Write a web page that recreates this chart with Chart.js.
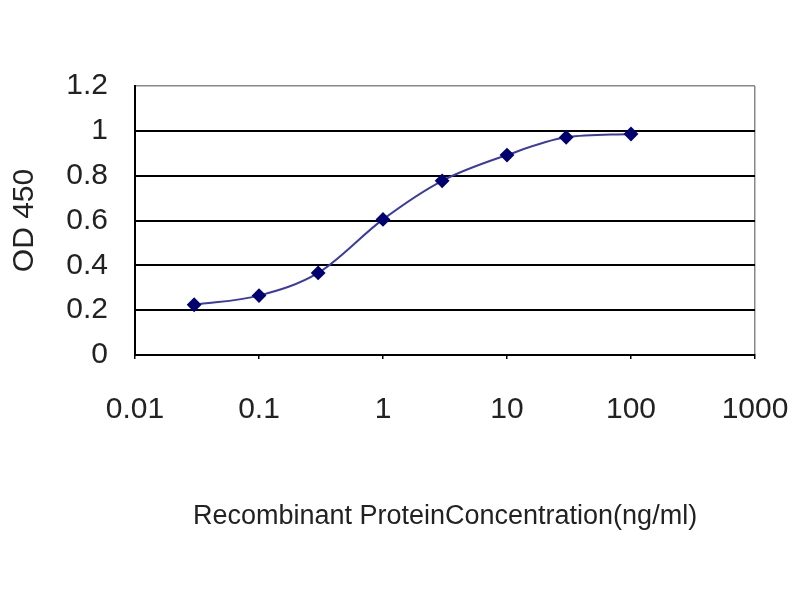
<!DOCTYPE html>
<html>
<head>
<meta charset="utf-8">
<script src="https://cdn.jsdelivr.net/npm/chart.js@4"></script>
<style>
  html, body { margin: 0; padding: 0; background: #fff; }
  #wrap { width: 800px; height: 600px; }
</style>
</head>
<body>
<div id="wrap"><canvas id="odChart"></canvas></div>
<script>
  // data
  const concentrations = [0.03, 0.1, 0.3, 1, 3, 10, 30, 100];
  const od450 = [0.224, 0.265, 0.366, 0.605, 0.777, 0.892, 0.971, 0.986];
  const xTicks = [0.01, 0.1, 1, 10, 100, 1000];
  const yTicks = [0, 0.2, 0.4, 0.6, 0.8, 1, 1.2];

  const points = concentrations.map((c, i) => ({ x: c, y: od450[i] }));

  const ctx = document.getElementById('odChart').getContext('2d');
  new Chart(ctx, {
    type: 'line',
    data: {
      datasets: [{
        label: 'OD 450',
        data: points,
        borderColor: '#3b3ba6',
        borderWidth: 2,
        pointStyle: 'rectRot',
        pointRadius: 6,
        pointBackgroundColor: '#000070',
        pointBorderColor: '#000070',
        cubicInterpolationMode: 'monotone'
      }]
    },
    options: {
      responsive: true,
      maintainAspectRatio: false,
      animation: false,
      layout: {
        padding: { top: 86, right: 45, left: 3, bottom: 63 }
      },
      plugins: {
        legend: { display: false },
        tooltip: { enabled: false }
      },
      scales: {
        x: {
          type: 'logarithmic',
          min: 0.01,
          max: 1000,
          afterBuildTicks: s => { s.ticks = xTicks.map(v => ({ value: v })); },
          afterFit: s => {
            s.height = 600 - 355 - 63;
            s.paddingLeft = 0;
            s.paddingRight = 0;
          },
          border: { color: '#000', width: 2 },
          grid: {
            color: c => (c.tick && c.tick.value === 1000) ? '#888' : 'rgba(0,0,0,0)',
            tickColor: '#000',
            tickLength: 4,
            lineWidth: 1.5
          },
          ticks: {
            padding: 33,
            color: '#222',
            font: { family: 'Liberation Sans', size: 30 },
            callback: v => String(v)
          },
          title: {
            display: true,
            text: 'Recombinant ProteinConcentration(ng/ml)',
            color: '#222',
            font: { family: 'Liberation Sans', size: 27 }
          }
        },
        y: {
          min: 0,
          max: 1.2,
          afterBuildTicks: s => { s.ticks = yTicks.map(v => ({ value: v })); },
          afterFit: s => {
            s.width = 135 - 3;
            s.paddingTop = 0;
            s.paddingBottom = 0;
          },
          border: { color: '#000', width: 2 },
          grid: {
            drawTicks: false,
            color: c => (c.tick && c.tick.value === 1.2) ? '#888' : '#000',
            lineWidth: c => (c.tick && c.tick.value === 1.2) ? 1.5 : 2
          },
          ticks: {
            padding: 27,
            color: '#222',
            font: { family: 'Liberation Sans', size: 30 },
            callback: v => String(v)
          },
          title: {
            display: true,
            text: 'OD 450',
            color: '#222',
            font: { family: 'Liberation Sans', size: 30 }
          }
        }
      }
    }
  });
</script>
</body>
</html>
